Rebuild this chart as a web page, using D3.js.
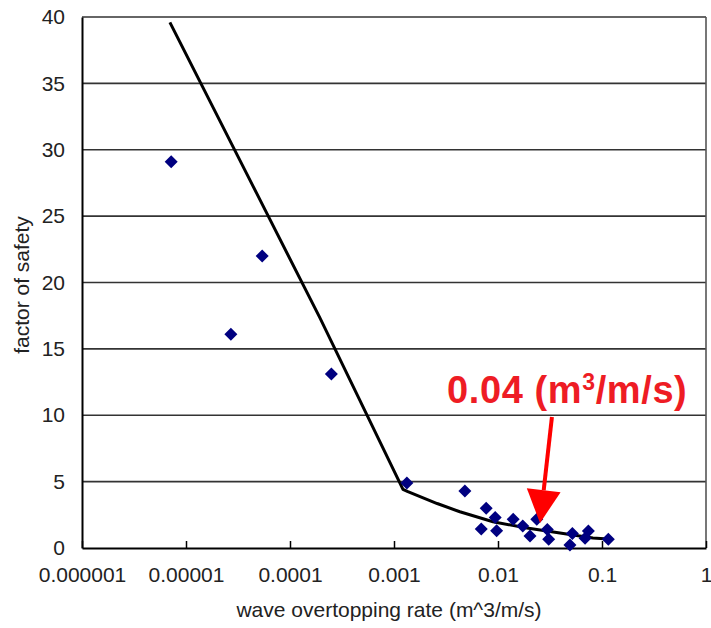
<!DOCTYPE html>
<html>
<head>
<meta charset="utf-8">
<script src="https://cdn.jsdelivr.net/npm/d3@7"></script>
<style>
  body { margin: 0; background: #fff; }
  svg { display: block; font-family: "Liberation Sans", Arial, sans-serif; }
</style>
</head>
<body>
<svg id="chart" width="711" height="628"></svg>
<script>
// measured points (overtopping rate vs factor of safety)
const rate   = [7.2e-6, 2.7e-5, 5.4e-5, 2.5e-4, 1.33e-3, 4.8e-3, 7.7e-3, 9.4e-3, 6.9e-3, 9.7e-3,
                0.014, 0.0173, 0.0203, 0.0236, 0.0298, 0.0307, 0.0519, 0.0492, 0.0687, 0.074, 0.115];
const safety = [29.1, 16.1, 22.0, 13.1, 4.9, 4.3, 3.0, 2.3, 1.43, 1.3,
                2.16, 1.66, 0.9, 2.16, 1.4, 0.65, 1.1, 0.23, 0.73, 1.28, 0.65];

// fitted curve
const fitRate   = [7.0e-6, 1.94e-4, 1.22e-3,
                   1.36e-3, 2.6e-3, 4.3e-3, 8.95e-3, 0.019, 0.0394, 0.0818, 0.114];
const fitSafety = [39.6, 17.33, 4.42,
                   4.24, 3.35, 2.73, 1.98, 1.5, 1.13, 0.75, 0.68];

const xTicks = [1e-6, 1e-5, 1e-4, 1e-3, 1e-2, 1e-1, 1];
const xTickLabels = ["0.000001", "0.00001", "0.0001", "0.001", "0.01", "0.1", "1"];
const yTicks = [0, 5, 10, 15, 20, 25, 30, 35, 40];

// annotation: text anchor and arrow (data units)
const noteText = { rate: 0.00324, fs: 10.92 };
const arrowTail = { rate: 0.0330, fs: 9.87 };
const arrowTip  = { rate: 0.02535, fs: 1.88 };

const svg = d3.select("#chart");
const plot = { left: 82, right: 706, top: 17, bottom: 548 };

const x = d3.scaleLog().domain([1e-6, 1]).range([plot.left, plot.right]);
const y = d3.scaleLinear().domain([0, 40]).range([plot.bottom, plot.top]);

// gridlines
svg.append("g")
  .selectAll("line")
  .data(yTicks.filter(d => d > 0))
  .join("line")
    .attr("x1", plot.left).attr("x2", plot.right)
    .attr("y1", d => y(d)).attr("y2", d => y(d))
    .attr("stroke", "#333").attr("stroke-width", 1.6);

// right border
svg.append("line")
  .attr("x1", plot.right).attr("x2", plot.right)
  .attr("y1", plot.top).attr("y2", plot.bottom)
  .attr("stroke", "#555").attr("stroke-width", 1.6);

// x axis
const xAxis = svg.append("g")
  .attr("transform", `translate(0,${plot.bottom})`)
  .call(d3.axisBottom(x)
    .tickValues(xTicks)
    .tickFormat((d, i) => xTickLabels[i])
    .tickSizeInner(-7)
    .tickSizeOuter(0)
    .tickPadding(19));
xAxis.select(".domain").attr("stroke", "#000").attr("stroke-width", 2);
xAxis.selectAll(".tick line").attr("stroke", "#000").attr("stroke-width", 1.5);
xAxis.selectAll(".tick text")
  .attr("font-size", 21).attr("fill", "#222")
  .attr("font-family", "'Liberation Sans', Arial, sans-serif");

// y axis
const yAxis = svg.append("g")
  .attr("transform", `translate(${plot.left},0)`)
  .call(d3.axisLeft(y).tickValues(yTicks).tickSize(0).tickPadding(17));
yAxis.select(".domain").attr("stroke", "#000").attr("stroke-width", 2);
yAxis.selectAll(".tick text")
  .attr("font-size", 21).attr("fill", "#222")
  .attr("font-family", "'Liberation Sans', Arial, sans-serif");

// axis titles
svg.append("text")
  .attr("x", 389).attr("y", 617)
  .attr("text-anchor", "middle")
  .attr("font-size", 21).attr("fill", "#222")
  .text("wave overtopping rate (m^3/m/s)");

svg.append("text")
  .attr("transform", "translate(29,285) rotate(-90)")
  .attr("text-anchor", "middle")
  .attr("font-size", 21).attr("fill", "#222")
  .text("factor of safety");

// fitted line
const fit = fitRate.map((r, i) => [r, fitSafety[i]]);
svg.append("path")
  .datum(fit)
  .attr("fill", "none")
  .attr("stroke", "#000")
  .attr("stroke-width", 3)
  .attr("stroke-linejoin", "round")
  .attr("d", d3.line().x(d => x(d[0])).y(d => y(d[1])));

// data points
const pts = rate.map((r, i) => ({ rate: r, fs: safety[i] }));
const s = 6.5;
svg.append("g")
  .selectAll("path")
  .data(pts)
  .join("path")
    .attr("transform", d => `translate(${x(d.rate)},${y(d.fs)})`)
    .attr("d", `M0,${-s}L${s},0L0,${s}L${-s},0Z`)
    .attr("fill", "#000080");

// annotation arrow
const tx = x(arrowTail.rate), ty = y(arrowTail.fs);
const hx = x(arrowTip.rate), hy = y(arrowTip.fs);
const len = Math.hypot(hx - tx, hy - ty);
const ux = (hx - tx) / len, uy = (hy - ty) / len;
const headLen = 33, headHalf = 17;
const bx = hx - ux * headLen, by = hy - uy * headLen;

svg.append("line")
  .attr("x1", tx).attr("y1", ty)
  .attr("x2", bx).attr("y2", by)
  .attr("stroke", "#ff0000").attr("stroke-width", 4);

svg.append("path")
  .attr("d", `M${hx},${hy}L${bx - uy * headHalf},${by + ux * headHalf}L${bx + uy * headHalf},${by - ux * headHalf}Z`)
  .attr("fill", "#ff0000");

// annotation text
const note = svg.append("text")
  .attr("x", x(noteText.rate)).attr("y", y(noteText.fs))
  .attr("font-size", 38).attr("font-weight", "bold")
  .attr("letter-spacing", 0.6)
  .attr("fill", "#ee1c24");
note.append("tspan").text("0.04 (m");
note.append("tspan").attr("font-size", 23).attr("dy", -13).text("3");
note.append("tspan").attr("dy", 13).text("/m/s)");
</script>
</body>
</html>
